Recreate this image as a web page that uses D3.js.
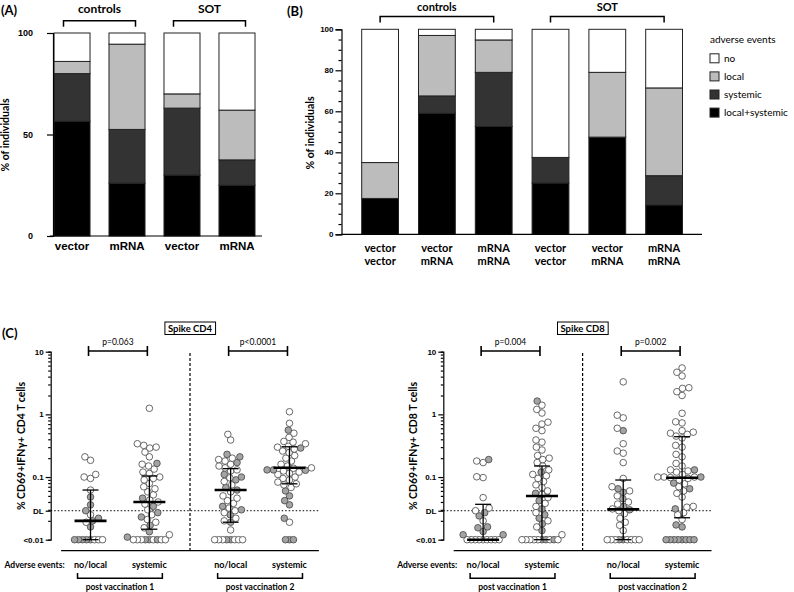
<!DOCTYPE html>
<html>
<head>
<meta charset="utf-8">
<script src="https://cdn.jsdelivr.net/npm/d3@7"></script>
<style>
  body { margin: 0; background: #fff; }
  svg { font-family: Lato, "Open Sans", sans-serif; }
</style>
</head>
<body>
<div id="canvas"></div>
<script>
// ---- Panel A: adverse events after vaccination 1 ----
const vaccineA = ["vector", "mRNA", "vector", "mRNA"];
const cohortA = ["controls", "controls", "SOT", "SOT"];
const bothA = [56.5, 26, 30, 25];
const systemicA = [23.5, 26.5, 33, 12.5];
const localA = [6, 42, 7, 24.5];
const noA = [14, 5.5, 30, 38];

// ---- Panel B: adverse events after vaccination 2 ----
const dose1B = ["vector", "vector", "mRNA", "vector", "vector", "mRNA"];
const dose2B = ["vector", "mRNA", "mRNA", "vector", "mRNA", "mRNA"];
const cohortB = ["controls", "controls", "controls", "SOT", "SOT", "SOT"];
const bothB = [17.5, 59, 52.6, 25, 47.4, 14.3];
const systemicB = [0, 8.5, 26.4, 12.5, 0, 14.3];
const localB = [17.5, 29.5, 15.8, 0, 31.6, 42.8];
const noB = [65, 3, 5.2, 62.5, 21, 28.6];

const eventKeys = ["local+systemic", "systemic", "local", "no"];
const eventColors = ["#000000", "#333333", "#bcbcbc", "#ffffff"];
const legendOrder = ["no", "local", "systemic", "local+systemic"];

// ---- Panel C: spike specific T cells, [value, grey fill] ----
const pvLabels = ["post vaccination 1", "post vaccination 2"];
const aeLabels = ["no/local", "systemic"];
const detectionLimit = 0.029;

const cd4NoLocal1 = [[0.21,0],[0.185,0],[0.11,0],[0.1,0],[0.095,0],[0.062,0],[0.048,1],[0.036,1],[0.029,1],[0.025,0],[0.022,1],[0.02,1],[0.019,0],[0.016,1],
  [0.01,1],[0.01,1],[0.01,0],[0.01,1],[0.01,0],[0.01,1],[0.01,0],[0.01,1]];
const cd4Systemic1 = [[1.25,0],[0.34,0],[0.32,0],[0.3,0],[0.29,0],[0.25,0],[0.21,0],[0.165,1],[0.16,0],[0.15,0],[0.134,0],[0.12,0],[0.114,0],[0.1,0],[0.095,0],
  [0.09,0],[0.079,0],[0.07,0],[0.065,0],[0.058,0],[0.052,0],[0.046,1],[0.043,0],[0.04,0],[0.037,0],[0.034,1],[0.03,0],[0.027,1],[0.025,0],[0.023,1],
  [0.021,0],[0.019,0],[0.017,1],[0.0155,0],[0.0134,1],[0.012,0],[0.011,1],
  [0.01,1],[0.01,1],[0.01,0],[0.01,0],[0.01,1],[0.01,0],[0.01,0],[0.01,0],[0.01,0]];
const cd4NoLocal2 = [[0.48,0],[0.39,0],[0.23,1],[0.21,1],[0.2,0],[0.19,0],[0.18,0],[0.17,1],[0.16,0],[0.15,0],[0.14,0],[0.13,0],[0.125,0],[0.11,1],[0.1,1],
  [0.097,0],[0.09,1],[0.085,0],[0.075,0],[0.068,1],[0.062,1],[0.058,0],[0.05,0],[0.046,0],[0.042,0],[0.038,0],[0.034,1],[0.032,0],[0.03,1],[0.029,0],
  [0.027,0],[0.025,1],[0.022,0],[0.02,0],[0.019,1],[0.0143,0],
  [0.01,1],[0.01,1],[0.01,0],[0.01,0],[0.01,0],[0.01,0],[0.01,0],[0.01,0]];
const cd4Systemic2 = [[1.1,0],[0.72,0],[0.56,1],[0.5,0],[0.43,0],[0.37,0],[0.36,0],[0.34,0],[0.31,0],[0.3,0],[0.29,1],[0.28,0],[0.26,0],[0.245,0],[0.22,0],
  [0.2,0],[0.18,0],[0.16,0],[0.15,0],[0.14,0],[0.138,0],[0.13,1],[0.13,1],[0.128,1],[0.125,0],[0.12,0],[0.115,0],[0.11,0],[0.1,0],[0.095,0],[0.09,0],
  [0.083,0],[0.078,0],[0.075,0],[0.068,0],[0.06,1],[0.05,1],[0.042,1],[0.036,1],[0.022,1],[0.019,0],
  [0.01,1],[0.01,1],[0.01,1]];

const cd8NoLocal1 = [[0.19,1],[0.18,0],[0.17,0],[0.101,0],[0.098,0],[0.047,0],[0.032,0],[0.029,0],[0.027,1],[0.024,1],[0.02,0],[0.016,1],[0.0155,1],
  [0.0135,1],[0.012,1],[0.012,1],
  [0.01,0],[0.01,0],[0.01,0],[0.01,0],[0.01,0],[0.01,0],[0.01,0],[0.01,0],[0.01,0]];
const cd8Systemic1 = [[1.63,1],[1.4,0],[1.2,0],[1.05,0],[0.75,0],[0.7,0],[0.6,0],[0.55,0],[0.39,0],[0.36,0],[0.3,0],[0.27,0],[0.22,0],[0.2,0],[0.19,0],
  [0.17,0],[0.15,0],[0.13,0],[0.12,1],[0.11,0],[0.105,0],[0.095,0],[0.085,0],[0.075,0],[0.068,0],[0.06,0],[0.055,1],[0.053,0],[0.047,0],[0.042,1],
  [0.038,0],[0.034,0],[0.031,1],[0.027,0],[0.025,1],[0.022,1],[0.02,0],[0.018,1],[0.016,0],[0.014,1],[0.012,0],
  [0.01,1],[0.01,0],[0.01,1],[0.01,0],[0.01,0],[0.01,0],[0.01,1],[0.01,0],[0.01,0],[0.01,0]];
const cd8NoLocal2 = [[3.3,0],[0.97,0],[0.88,0],[0.6,0],[0.55,1],[0.34,0],[0.26,0],[0.24,0],[0.17,0],[0.095,0],[0.07,0],[0.065,1],[0.06,0],[0.057,1],
  [0.05,0],[0.045,1],[0.04,0],[0.037,0],[0.034,1],[0.031,0],[0.03,1],[0.029,0],[0.026,0],[0.022,0],[0.019,0],[0.017,0],[0.014,0],
  [0.01,1],[0.01,1],[0.01,0],[0.01,0],[0.01,0],[0.01,0],[0.01,0],[0.01,0],[0.01,0]];
const cd8Systemic2 = [[5.5,0],[4.7,0],[4.1,0],[2.66,0],[2.6,0],[2.3,0],[2.0,0],[1.04,0],[0.76,0],[0.73,0],[0.55,0],[0.52,0],[0.5,0],[0.48,0],[0.45,0],
  [0.42,0],[0.32,0],[0.3,0],[0.23,0],[0.21,0],[0.165,0],[0.15,0],[0.13,0],[0.13,1],[0.125,0],[0.12,0],[0.11,0],[0.1,0],[0.1,0],[0.1,1],[0.1,0],
  [0.098,0],[0.095,0],[0.09,0],[0.08,1],[0.078,0],[0.07,0],[0.065,1],[0.06,0],[0.055,0],[0.048,0],[0.034,0],[0.033,0],[0.031,1],[0.027,0],
  [0.025,0],[0.021,0],[0.0172,1],[0.016,1],
  [0.01,1],[0.01,1],[0.01,1],[0.01,1],[0.01,1],[0.01,1],[0.01,1],[0.01,1]];

// [median, lower, upper]
const cd4Stats = [[0.02, 0.01, 0.062], [0.04, 0.0147, 0.104], [0.062, 0.019, 0.136], [0.141, 0.078, 0.304]];
const cd8Stats = [[0.01, 0.01, 0.0367], [0.0498, 0.01, 0.15], [0.0305, 0.01, 0.0896], [0.0975, 0.0224, 0.44]];
const cd4P = ["p=0.063", "p<0.0001"];
const cd8P = ["p=0.004", "p=0.002"];

const width = 794;
const height = 592;

const svg = d3.select("#canvas").append("svg")
  .attr("width", width)
  .attr("height", height);

// ---------- stacked bars helper ----------
function stackRows(both, sys, loc, no) {
  return both.map((d, i) => ({ "local+systemic": d, "systemic": sys[i], "local": loc[i], "no": no[i], i: i }));
}
const stack = d3.stack().keys(eventKeys);
const color = d3.scaleOrdinal().domain(eventKeys).range(eventColors);

function drawBars(g, x, y, rows) {
  const series = stack(rows);
  g.selectAll("g.layer").data(series).enter()
    .append("g").attr("class", "layer")
    .attr("fill", d => color(d.key))
    .selectAll("rect").data(d => d).enter()
    .append("rect")
    .attr("x", d => x(d.data.i))
    .attr("y", d => y(d[1]))
    .attr("width", x.bandwidth())
    .attr("height", d => y(d[0]) - y(d[1]))
    .attr("stroke", "#222")
    .attr("stroke-width", 1);
}

function bracketDown(g, x0, x1, y0, label, ty, fs) {
  g.append("path")
    .attr("d", `M${x0},${y0 + 6}V${y0}H${x1}V${y0 + 6}`)
    .attr("fill", "none").attr("stroke", "#000").attr("stroke-width", 1.5);
  g.append("text").attr("x", (x0 + x1) / 2).attr("y", ty)
    .attr("text-anchor", "middle").style("font-size", fs + "px").style("font-weight", "bold")
    .text(label);
}

function styleAxis(sel) {
  sel.selectAll("path, line").attr("stroke", "#000").attr("stroke-width", 1.2);
  sel.selectAll("text").style("font-size", "8px").style("font-weight", "bold").attr("fill", "#000");
}

// ---------- Panel A ----------
const gA = svg.append("g");
const xA = d3.scaleBand().domain(d3.range(vaccineA.length)).range([52.9, 256.1]).paddingInner(0.345).paddingOuter(0.02);
const yA = d3.scaleLinear().domain([0, 100]).range([236, 33]);

drawBars(gA, xA, yA, stackRows(bothA, systemicA, localA, noA));

gA.append("g").attr("transform", "translate(53,0)")
  .call(d3.axisLeft(yA).tickValues([0, 50, 100]).tickSize(6).tickPadding(14))
  .call(styleAxis)
  .call(sel => sel.selectAll("text").style("font-size", "9px"));
gA.append("line").attr("x1", 50).attr("x2", 262).attr("y1", 236).attr("y2", 236)
  .attr("stroke", "#000").attr("stroke-width", 1.2);
gA.append("g").attr("transform", "translate(0,236)")
  .call(d3.axisBottom(xA).tickSize(0).tickPadding(6).tickFormat(i => vaccineA[i]))
  .call(sel => sel.select(".domain").remove())
  .selectAll("text").style("font-size", "11.5px").style("font-weight", "bold");

d3.groups(d3.range(cohortA.length), i => cohortA[i]).forEach(([name, idx]) => {
  const mid = (xA(idx[0]) + xA(idx[idx.length - 1]) + xA.bandwidth()) / 2;
  bracketDown(gA, mid - 36, mid + 36, 20.7, name, 13, 12);
});

gA.append("text").attr("transform", "translate(9,135) rotate(-90)")
  .attr("text-anchor", "middle").style("font-size", "10.5px").style("font-weight", "bold")
  .text("% of individuals");
gA.append("text").attr("x", 1).attr("y", 15)
  .style("font-size", "13px").style("font-weight", "bold").text("(A)");

// ---------- Panel B ----------
const gB = svg.append("g");
const xB = d3.scaleBand().domain(d3.range(dose1B.length)).range([361.7, 682.5]).paddingInner(0.352).paddingOuter(0);
const yB = d3.scaleLinear().domain([0, 100]).range([234.3, 29.3]);

drawBars(gB, xB, yB, stackRows(bothB, systemicB, localB, noB));

gB.append("g").attr("transform", "translate(341.5,0)")
  .call(d3.axisLeft(yB).tickValues(d3.range(0, 101, 5)).tickSize(6).tickPadding(2)
    .tickFormat(d => d % 20 === 0 ? d : ""))
  .call(styleAxis)
  .call(sel => sel.selectAll(".tick").filter(d => d % 20 !== 0).select("line").attr("x2", -3));
gB.append("line").attr("x1", 341.5).attr("x2", 702).attr("y1", 234.3).attr("y2", 234.3)
  .attr("stroke", "#000").attr("stroke-width", 1.2);
const xLabB = gB.append("g").selectAll("text").data(d3.range(dose1B.length)).enter()
  .append("text")
  .attr("x", i => xB(i) + xB.bandwidth() / 2)
  .attr("text-anchor", "middle").style("font-size", "11px").style("font-weight", "bold");
xLabB.append("tspan").attr("y", 252).attr("x", i => xB(i) + xB.bandwidth() / 2).text(i => dose1B[i]);
xLabB.append("tspan").attr("y", 265).attr("x", i => xB(i) + xB.bandwidth() / 2).text(i => dose2B[i]);

d3.groups(d3.range(cohortB.length), i => cohortB[i]).forEach(([name, idx]) => {
  const a = xB(idx[0]) + xB.bandwidth() / 2;
  const b = xB(idx[idx.length - 1]) + xB.bandwidth() / 2;
  bracketDown(gB, a, b, 16.5, name, 11, 11);
});

gB.append("text").attr("transform", "translate(314,133) rotate(-90)")
  .attr("text-anchor", "middle").style("font-size", "10.5px").style("font-weight", "bold")
  .text("% of individuals");
gB.append("text").attr("x", 287).attr("y", 16)
  .style("font-size", "13px").style("font-weight", "bold").text("(B)");

// legend
const leg = gB.append("g").attr("transform", "translate(710,0)");
leg.append("text").attr("x", 0).attr("y", 43).style("font-size", "10px").text("adverse events");
leg.selectAll("g.item").data(legendOrder).enter().append("g").attr("class", "item")
  .attr("transform", (d, i) => `translate(0,${58.3 + i * 18.1})`)
  .each(function (d) {
    const it = d3.select(this);
    it.append("rect").attr("x", 0).attr("y", -4.5).attr("width", 9).attr("height", 9)
      .attr("fill", color(d)).attr("stroke", "#222").attr("stroke-width", 1);
    it.append("text").attr("x", 14).attr("y", 3.5).style("font-size", "10px").text(d);
  });

// ---------- Panel C ----------
const yC = d3.scaleLog().domain([0.01, 10]).range([539.7, 351.7]);

function swarm(points, cx, r) {
  const placed = [];
  const sorted = points.map(p => ({ v: p[0], grey: p[1], y: yC(p[0]) }))
    .sort((a, b) => a.v - b.v);
  sorted.forEach(p => {
    for (let k = 0; k < 400; k++) {
      const dx = (k % 2 === 0 ? 1 : -1) * Math.ceil(k / 2) * 0.4;
      const ok = placed.every(q => {
        const dist = (p.v <= 0.01 && q.v <= 0.01) ? 4 : r * 1.9;
        const ddx = dx - q.dx, ddy = p.y - q.y;
        return ddx * ddx + ddy * ddy >= dist * dist;
      });
      if (ok) { p.dx = dx; break; }
    }
    placed.push(p);
  });
  return placed.map(p => ({ ...p, x: cx + p.dx }));
}

function drawSpike(ox, title, ylabel, groups, stats, pvals) {
  const g = svg.append("g");
  const xOuter = d3.scaleBand().domain(pvLabels).range([ox + 10.4, ox + 268.2])
    .paddingInner(0.58).paddingOuter(0.21);
  const xInner = d3.scalePoint().domain(aeLabels).range([0, xOuter.bandwidth()]);
  const cols = [];
  pvLabels.forEach(pv => aeLabels.forEach(ae => cols.push(xOuter(pv) + xInner(ae))));
  const sepX = (xOuter(pvLabels[0]) + xOuter.bandwidth() + xOuter(pvLabels[1])) / 2;

  // y axis with log minor ticks
  const minor = [];
  [0.01, 0.1, 1].forEach(dec => d3.range(2, 10).forEach(m => minor.push(dec * m)));
  g.append("g").attr("transform", `translate(${ox},0)`)
    .call(d3.axisLeft(yC).tickValues(minor).tickSize(2.5).tickFormat(""))
    .call(styleAxis);
  const majorVals = [0.01, detectionLimit, 0.1, 1, 10];
  const majorText = ["<0.01", "DL", "0.1", "1", "10"];
  g.append("g").attr("transform", `translate(${ox},0)`)
    .call(d3.axisLeft(yC).tickValues(majorVals).tickSize(5).tickPadding(2)
      .tickFormat((d, i) => majorText[i]))
    .call(styleAxis)
    .call(sel => sel.select(".domain").remove());

  // x axis line
  g.append("line").attr("x1", xOuter.range()[0]).attr("x2", xOuter.range()[1])
    .attr("y1", 550.7).attr("y2", 550.7).attr("stroke", "#000").attr("stroke-width", 1.2);

  // separator and detection limit
  g.append("line").attr("x1", sepX).attr("x2", sepX).attr("y1", 353).attr("y2", 550.7)
    .attr("stroke", "#000").attr("stroke-width", 1.2).attr("stroke-dasharray", "3,2");
  g.append("line").attr("x1", ox).attr("x2", xOuter.range()[1])
    .attr("y1", yC(detectionLimit)).attr("y2", yC(detectionLimit))
    .attr("stroke", "#000").attr("stroke-width", 1).attr("stroke-dasharray", "1.5,2");

  // dots
  groups.forEach((pts, gi) => {
    const dots = swarm(pts, cols[gi], 3.3);
    g.append("g").selectAll("circle").data(dots).enter().append("circle")
      .attr("cx", d => d.x).attr("cy", d => d.y).attr("r", 3.3)
      .attr("fill", d => d.grey ? "#a3a3a3" : "#fff")
      .attr("stroke", "#444").attr("stroke-width", 0.8);
  });

  // median and range
  stats.forEach((s, gi) => {
    const cx = cols[gi];
    const sg = g.append("g").attr("stroke", "#000");
    sg.append("line").attr("x1", cx).attr("x2", cx).attr("y1", yC(s[1])).attr("y2", yC(s[2])).attr("stroke-width", 1.3);
    sg.append("line").attr("x1", cx - 8).attr("x2", cx + 8).attr("y1", yC(s[2])).attr("y2", yC(s[2])).attr("stroke-width", 1.3);
    sg.append("line").attr("x1", cx - 8).attr("x2", cx + 8).attr("y1", yC(s[1])).attr("y2", yC(s[1])).attr("stroke-width", 1.3);
    sg.append("line").attr("x1", cx - 16).attr("x2", cx + 16).attr("y1", yC(s[0])).attr("y2", yC(s[0])).attr("stroke-width", 2.6);
  });

  // p-value brackets
  pvLabels.forEach((pv, i) => {
    const a = cols[i * 2] - 2, b = cols[i * 2 + 1] - 2, yy = 351;
    g.append("path").attr("d", `M${a},${yy - 5}V${yy + 5}M${a},${yy}H${b}M${b},${yy - 5}V${yy + 5}`)
      .attr("stroke", "#000").attr("stroke-width", 1.6).attr("fill", "none");
    g.append("text").attr("x", (a + b) / 2).attr("y", yy - 6).attr("text-anchor", "middle")
      .style("font-size", "8.5px").text(pvals[i]);
  });

  // title box
  const box = g.append("rect");
  const tt = g.append("text").attr("x", sepX).attr("y", 331.8).attr("text-anchor", "middle")
    .style("font-size", "9.5px").style("font-weight", "bold").text(title);
  const bb = tt.node().getBBox();
  box.attr("x", bb.x - 3).attr("y", 322).attr("width", bb.width + 6).attr("height", 12.5)
    .attr("fill", "#fff").attr("stroke", "#000").attr("stroke-width", 1);

  // y label
  g.append("text").attr("transform", `translate(${ox - 26},446) rotate(-90)`)
    .attr("text-anchor", "middle").style("font-size", "10.5px").style("font-weight", "bold")
    .text(ylabel);

  // bottom labels
  g.append("text").attr("x", ox + 14).attr("y", 568).attr("text-anchor", "end")
    .style("font-size", "8.5px").style("font-weight", "bold").text("Adverse events:");
  cols.forEach((cx, i) => {
    g.append("text").attr("x", cx).attr("y", 568).attr("text-anchor", "middle")
      .style("font-size", "9px").style("font-weight", "bold").text(aeLabels[i % 2]);
  });
  pvLabels.forEach(pv => {
    const a = xOuter(pv) - 13, b = xOuter(pv) + xOuter.bandwidth() + 13;
    g.append("path").attr("d", `M${a},573V578.3H${b}V573`)
      .attr("stroke", "#000").attr("stroke-width", 1.5).attr("fill", "none");
    g.append("text").attr("x", (a + b) / 2).attr("y", 590).attr("text-anchor", "middle")
      .style("font-size", "8.5px").style("font-weight", "bold").text(pv);
  });
  return g;
}

drawSpike(50.7, "Spike CD4", "% CD69+IFNγ+ CD4 T cells",
  [cd4NoLocal1, cd4Systemic1, cd4NoLocal2, cd4Systemic2], cd4Stats, cd4P);
drawSpike(443.3, "Spike CD8", "% CD69+IFNγ+ CD8 T cells",
  [cd8NoLocal1, cd8Systemic1, cd8NoLocal2, cd8Systemic2], cd8Stats, cd8P);

svg.append("text").attr("x", 2).attr("y", 338)
  .style("font-size", "13px").style("font-weight", "bold").text("(C)");
</script>
</body>
</html>
